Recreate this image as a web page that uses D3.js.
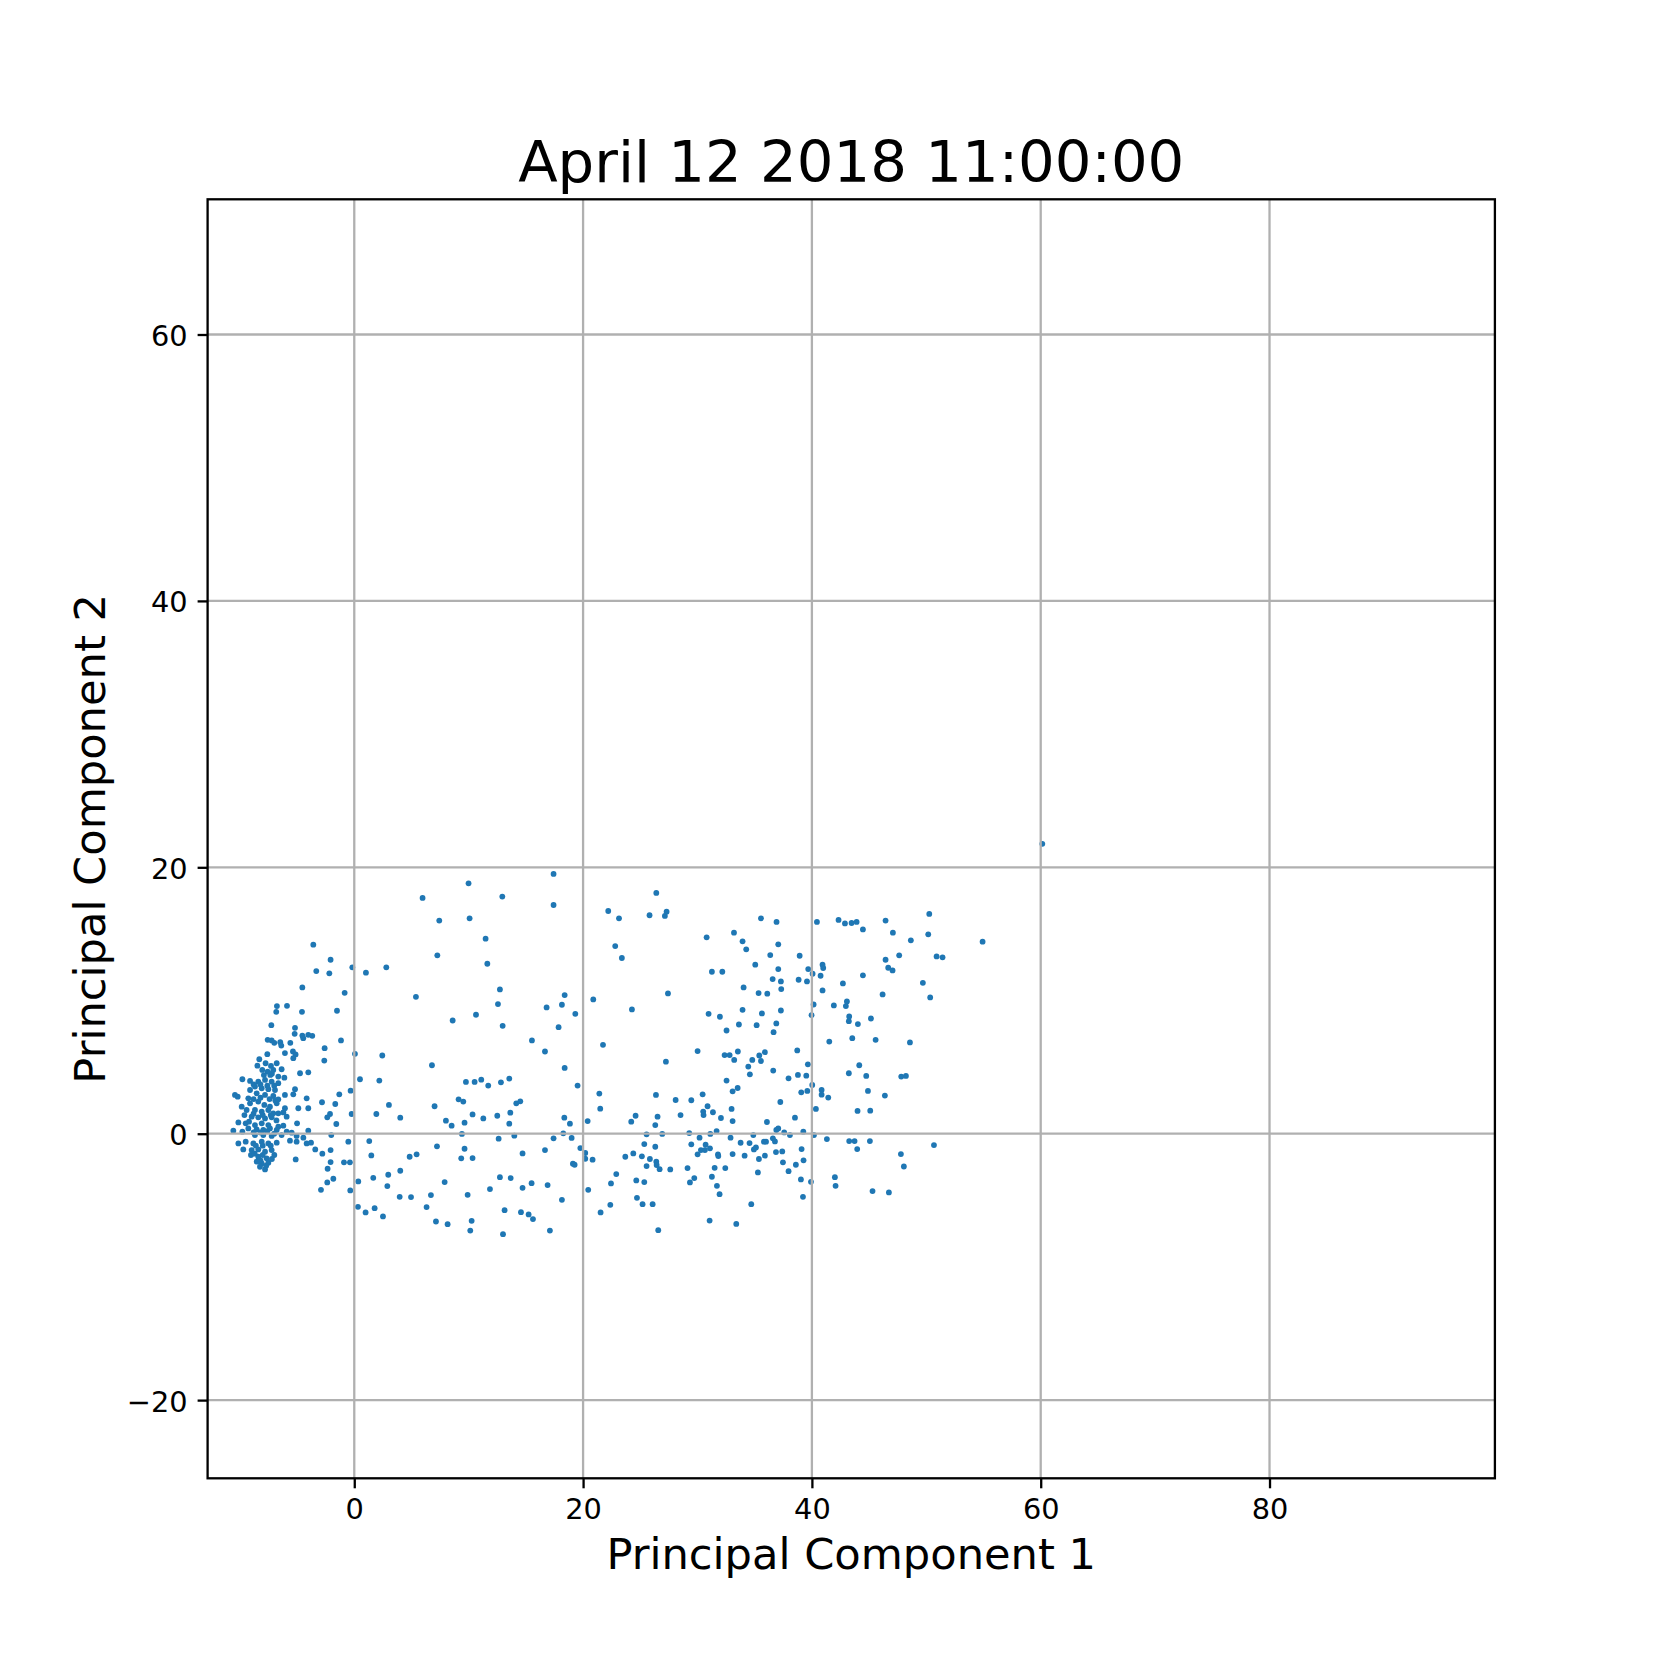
<!DOCTYPE html>
<html><head><meta charset="utf-8">
<script src="https://cdn.jsdelivr.net/npm/d3@7"></script>
<style>body{margin:0;background:#fff}svg{display:block}</style>
</head><body>
<svg id="chart" width="1661" height="1661"></svg>
<script>
const titleText = "April 12 2018 11:00:00";
const xLabelText = "Principal Component 1";
const yLabelText = "Principal Component 2";
const xTicks = [0, 20, 40, 60, 80];
const yTicks = [-20, 0, 20, 40, 60];
const xDomain = [-12.82, 99.7];
const yDomain = [-25.87, 70.15];

// [PC1, PC2] scores
const scoresUpperLeft = [[-3.58,14.19],[-2.07,13.06],[-3.32,12.21],[-2.18,12.04],[-0.17,12.49],[1.02,12.09],[2.80,12.49],[-4.54,10.98],[-0.84,10.58],[5.39,10.28],[-6.76,9.58],[-5.88,9.60],[-6.82,9.15],[-4.57,9.15],[-1.51,9.23],[-7.25,8.15],[-5.18,7.95],[-5.21,7.50],[-4.54,7.37],[-4.46,7.17],[-4.02,7.42],[-3.67,7.35],[-1.16,7.00],[-7.57,7.05],[-7.22,7.00],[-6.99,6.82],[-6.47,6.87],[-6.38,6.62],[-5.59,6.82],[-2.59,6.42],[-7.60,5.97],[-6.06,6.05],[-5.36,6.17],[-5.13,5.95],[0.06,6.00],[2.45,5.87],[-8.30,5.59],[-5.33,5.67],[-2.62,5.49]];
const scoresCluster = [[-8.47,5.11],[-7.75,5.29],[-7.28,5.09],[-6.78,5.29],[-8.04,4.79],[-7.57,4.66],[-7.08,4.79],[-6.35,4.84],[-4.74,4.54],[-4.02,4.61],[-7.34,4.41],[-6.64,4.29],[-6.11,4.21],[-9.78,4.09],[-9.11,3.96],[-8.39,3.91],[-7.80,4.04],[-7.22,3.91],[-6.64,3.79],[-8.68,3.54],[-8.09,3.41],[-7.51,3.34],[-6.93,3.28],[-5.18,3.34],[-9.11,3.28],[-10.43,2.91],[-10.19,2.78],[-8.53,3.03],[-7.80,2.91],[-7.08,2.83],[-6.64,2.58],[-6.06,2.91],[-5.33,2.96],[-9.26,2.66],[-4.16,2.66],[-9.84,2.03],[-9.11,2.28],[-8.39,2.41],[-7.86,2.16],[-7.37,2.03],[-6.78,2.28],[-6.06,1.91],[-4.89,1.91],[-4.02,1.91],[-9.41,1.78],[-8.68,1.78],[-8.09,1.66],[-7.51,1.78],[-7.08,1.53],[-6.64,1.53],[-5.91,1.28],[-8.97,1.28],[-8.39,1.23],[-7.80,1.15],[-7.22,1.23],[-10.13,0.85],[-9.49,0.78],[-8.68,0.65],[-8.09,0.78],[-7.51,0.65],[-6.64,0.53],[-5.00,0.78],[-9.26,0.40],[-8.53,0.33],[-7.95,0.28],[-7.37,0.40],[-6.78,0.28],[-10.57,0.23],[-9.78,0.15],[-5.91,0.15],[-5.47,0.08],[-4.02,0.23],[-7.95,-0.10],[-8.68,-0.10],[-7.22,-0.17],[-6.35,-0.10],[-5.04,-0.17],[-5.62,-0.52],[-10.13,-0.73],[-9.49,-0.60],[-8.82,-0.73],[-8.09,-0.60],[-7.51,-0.73],[-6.78,-0.67],[-4.45,-0.30],[-5.04,-0.60],[-4.16,-0.73],[-3.78,-0.67],[-9.70,-1.18],[-8.97,-1.23],[-8.39,-1.18],[-7.80,-1.35],[-7.22,-1.23],[-9.03,-1.60],[-8.39,-1.73],[-7.66,-1.85],[-6.99,-1.60],[-8.53,-2.10],[-8.09,-2.23],[-7.51,-2.18],[-5.12,-1.93],[-8.24,-2.48],[-7.80,-2.68]];
// overlapping points in the solid core of the cluster (estimated)
const scoresClusterCore = [[-8.8,3.7],[-8.2,3.7],[-7.6,3.6],[-7.0,3.6],[-8.8,2.6],[-8.2,2.7],[-7.4,2.6],[-6.9,2.5],[-8.8,1.5],[-8.0,1.4],[-7.3,1.4],[-6.8,1.0],[-8.8,0.1],[-8.2,0.1],[-7.6,0.2],[-7.0,0.0],[-8.6,-0.9],[-8.0,-0.9],[-7.3,-0.9],[-8.7,-1.5],[-8.0,-1.6],[-7.2,-1.9],[-8.2,-2.0],[-7.7,-2.4],[-7.9,4.4],[-7.2,4.5],[-9.2,0.9],[-9.6,1.4],[-6.2,0.6],[-6.2,1.6]];
const scoresLowerLeft = [[-3.41,-1.18],[0.50,4.09],[2.19,3.99],[-0.32,3.23],[-1.31,2.96],[-2.82,2.36],[-1.66,2.23],[3.03,2.16],[-0.23,1.48],[1.93,1.48],[4.02,1.20],[-2.12,1.48],[-2.36,1.23],[-1.57,0.73],[-2.01,-0.10],[-0.52,-0.60],[1.31,-0.55],[-2.07,-1.23],[-2.79,-1.50],[1.49,-1.63],[4.84,-1.73],[5.45,-1.55],[-2.07,-2.13],[-0.90,-2.15],[-0.38,-2.15],[-2.33,-2.63],[2.97,-3.08],[4.02,-2.78],[1.66,-3.31],[-1.83,-3.38],[-2.36,-3.66],[0.35,-3.58],[2.89,-3.93],[-2.91,-4.21],[-0.35,-4.26],[3.97,-4.74],[4.96,-4.76],[0.32,-5.49],[0.99,-5.91],[1.78,-5.59],[2.51,-6.21]];
const scoresUpperMid = [[17.42,19.50],[9.99,18.80],[5.97,17.70],[12.94,17.80],[17.42,17.17],[7.43,16.00],[10.08,16.17],[11.48,14.64],[7.26,13.39],[11.63,12.76],[12.73,10.83],[18.39,10.41],[12.56,9.73],[16.81,9.48],[18.15,9.68],[19.32,9.00],[8.60,8.50],[10.64,8.93],[12.97,8.10],[17.86,8.00],[15.53,7.00],[16.67,6.17],[22.20,16.72],[23.14,16.17],[22.81,14.09],[20.89,10.08],[21.74,6.67]];
const scoresUpperRight = [[26.40,18.08],[25.81,16.40],[27.15,16.35],[27.30,16.67],[23.39,13.19],[30.80,14.74],[33.19,15.09],[33.94,14.44],[34.26,13.84],[35.55,16.17],[36.91,15.90],[37.06,14.22],[36.36,13.41],[38.93,13.36],[40.44,15.90],[35.05,12.69],[37.06,12.36],[31.26,12.16],[32.17,12.16],[36.57,11.61],[37.29,11.43],[38.84,11.56],[39.57,11.43],[39.68,12.36],[40.06,12.01],[34.03,10.98],[35.34,10.56],[36.10,10.51],[37.32,10.86],[27.42,10.53],[24.27,9.33],[30.97,9.00],[31.96,8.78],[33.94,9.30],[35.63,9.03],[37.29,9.25],[33.62,8.20],[35.17,8.15],[36.89,8.28],[32.54,7.75],[36.65,7.62],[40.15,9.70],[39.97,8.90],[30.01,6.20],[32.37,5.90],[32.81,5.90],[33.53,6.17],[35.40,5.87],[35.89,6.12],[38.72,6.25],
  [42.33,16.05],[42.89,15.79],[43.47,15.82],[43.91,15.90],[44.46,15.34],[46.44,16.00],[47.08,15.09],[48.65,14.52],[50.17,14.97],[50.26,16.50],[54.92,14.42],[46.44,13.06],[47.63,13.39],[50.90,13.31],[51.42,13.24],[46.67,12.46],[47.05,12.26],[40.93,12.69],[40.99,12.44],[40.76,11.86],[44.46,11.89],[42.71,11.28],[40.93,10.76],[49.70,11.33],[46.18,10.46],[50.34,10.23],[41.92,9.63],[43.06,9.93],[42.97,9.58],[43.26,8.80],[43.23,8.45],[44.02,8.23],[45.16,8.65],[41.52,6.92],[43.53,7.17],[45.57,7.05],[48.57,6.85],[60.14,21.76]];
const scoresLowerMid = [[6.79,5.14],[18.39,4.94],[9.76,3.89],[10.52,3.89],[11.10,4.06],[11.71,3.61],[12.82,3.86],[13.55,4.14],[19.52,3.61],[21.42,3.01],[9.12,2.58],[9.53,2.41],[7.02,2.06],[14.16,2.28],[14.51,2.43],[21.50,1.88],[10.34,1.45],[12.50,1.35],[13.64,1.58],[8.01,0.98],[8.51,0.60],[9.64,0.83],[11.28,1.15],[13.55,0.75],[18.36,1.20],[18.85,0.75],[20.40,0.95],[9.41,-0.02],[12.62,-0.37],[13.99,-0.15],[17.42,-0.35],[18.27,0.03],[19.00,-0.32],[7.23,-0.95],[9.64,-1.13],[9.35,-1.85],[10.34,-1.83],[14.71,-1.48],[16.67,-1.23],[19.76,-1.08],[20.19,-1.45],[20.19,-1.88],[20.83,-1.95],[19.11,-2.25],[19.26,-2.33],[12.73,-3.26],[13.67,-3.33],[7.90,-3.63],[11.86,-4.16],[14.71,-4.06],[15.50,-3.71],[16.90,-3.86],[22.90,-3.03],[22.44,-3.73],[20.45,-4.21],[6.70,-4.61],[9.91,-4.59],[6.32,-5.51],[18.15,-4.96],[13.14,-5.74],[14.57,-5.89],[15.24,-6.06],[15.62,-6.41],[22.38,-5.34],[21.53,-5.91],[7.14,-6.59],[8.16,-6.79],[10.26,-6.54],[10.14,-7.27],[13.00,-7.54],[17.10,-7.27]];
const scoresLowerRight = [[27.24,5.41],[33.21,5.54],[34.79,5.54],[35.55,5.46],[34.44,5.04],[34.58,4.46],[36.62,4.74],[39.65,5.21],[38.78,4.41],[39.51,4.36],[37.96,4.16],[32.54,3.99],[33.07,3.18],[33.51,3.43],[40.03,3.66],[39.07,3.11],[39.60,3.21],[26.37,2.91],[28.09,2.53],[29.46,2.51],[30.45,2.96],[37.24,2.38],[30.88,2.06],[30.50,1.66],[30.53,1.40],[31.35,1.61],[32.98,1.86],[28.52,1.40],[24.59,1.35],[24.21,0.90],[26.51,1.28],[26.31,0.65],[32.05,1.18],[33.07,0.95],[36.07,0.88],[38.52,1.20],[40.35,1.86],[25.55,-0.05],[26.92,-0.02],[29.28,0.05],[31.12,-0.02],[31.67,0.20],[32.89,-0.30],[34.88,-0.10],[36.89,0.28],[37.06,0.40],[37.58,0.10],[38.08,-0.10],[39.25,0.15],[40.18,-0.10],[30.18,-0.30],[29.46,-0.80],[30.71,-0.83],[26.31,-0.98],[25.35,-0.78],[23.69,-1.73],[24.39,-1.48],[25.14,-1.70],[25.84,-1.90],[26.40,-2.10],[25.55,-2.43],[26.43,-2.35],[26.69,-2.66],[27.62,-2.68],[30.30,-1.23],[30.01,-1.55],[30.65,-1.23],[31.09,-1.10],[31.79,-1.55],[31.82,-1.68],[33.07,-1.53],[33.77,-0.68],[34.55,-0.70],[35.11,-1.03],[34.93,-1.18],[35.81,-0.60],[35.99,-0.60],[36.59,-0.35],[36.77,-0.58],[36.86,-1.38],[37.41,-1.33],[34.12,-1.65],[35.37,-1.90],[35.89,-1.65],[39.10,-1.15],[37.47,-2.15],[39.27,-2.00],[38.60,-2.33],[37.96,-2.81],[29.13,-2.58],[31.50,-2.56],[32.43,-2.58],[35.28,-2.91],[24.65,-3.51],[25.35,-3.63],[29.72,-3.33],[29.34,-3.66],[31.26,-3.23],[31.70,-3.91],[31.93,-4.54],[24.71,-4.81],[25.20,-5.29],[26.08,-5.29],[34.70,-5.29],[39.04,-3.43],[39.92,-3.61],[39.22,-4.74],[31.06,-6.52],[33.39,-6.77],[26.57,-7.24],
  [44.14,5.14],[43.23,4.54],[44.75,4.34],[47.81,4.29],[48.22,4.34],[40.85,3.28],[40.85,2.93],[41.43,2.71],[44.90,3.21],[46.38,2.86],[43.99,1.71],[45.10,1.73],[41.31,-0.40],[43.26,-0.55],[43.73,-0.55],[45.07,-0.55],[43.96,-1.15],[50.67,-0.85],[47.78,-1.53],[48.04,-2.46],[42.01,-3.26],[42.07,-3.91],[45.30,-4.31],[46.73,-4.41]];

const scores = [].concat(scoresUpperLeft, scoresCluster, scoresClusterCore, scoresLowerLeft, scoresUpperMid, scoresUpperRight, scoresLowerMid, scoresLowerRight);

const plot = {left: 207.6, right: 1494.9, top: 199.3, bottom: 1478.3};
const font = "DejaVu Sans";
const lw = 2.3;

const x = d3.scaleLinear().domain(xDomain).range([plot.left, plot.right]);
const y = d3.scaleLinear().domain(yDomain).range([plot.bottom, plot.top]);

const svg = d3.select("#chart");
svg.append("rect").attr("width", 1661).attr("height", 1661).attr("fill", "#fff");

// points
svg.append("g").selectAll("circle").data(scores).join("circle")
  .attr("cx", d => x(d[0])).attr("cy", d => y(d[1]))
  .attr("r", 2.9).attr("fill", "#1f77b4");

// grid (matplotlib draws grid above the collection)
const grid = svg.append("g").attr("stroke", "#b0b0b0").attr("stroke-width", lw);
grid.selectAll("line.vx").data(xTicks).join("line").attr("class", "vx")
  .attr("x1", d => x(d)).attr("x2", d => x(d)).attr("y1", plot.top).attr("y2", plot.bottom);
grid.selectAll("line.hy").data(yTicks).join("line").attr("class", "hy")
  .attr("y1", d => y(d)).attr("y2", d => y(d)).attr("x1", plot.left).attr("x2", plot.right);

// axes
const fmt = d3.format("d");
const gx = svg.append("g").attr("transform", `translate(0,${plot.bottom})`)
  .call(d3.axisBottom(x).tickValues(xTicks).tickFormat(fmt).tickSize(10).tickPadding(10).tickSizeOuter(0));
const gy = svg.append("g").attr("transform", `translate(${plot.left},0)`)
  .call(d3.axisLeft(y).tickValues(yTicks).tickFormat(fmt).tickSize(10).tickPadding(10).tickSizeOuter(0));
[gx, gy].forEach(g => {
  g.select(".domain").remove();
  g.selectAll(".tick line").attr("stroke", "#000").attr("stroke-width", lw);
  g.selectAll(".tick text").attr("fill", "#000").attr("font-family", font).attr("font-size", 28.8);
});
gy.selectAll(".tick text").attr("dy", "0.38em");

// frame
svg.append("rect").attr("x", plot.left).attr("y", plot.top)
  .attr("width", plot.right - plot.left).attr("height", plot.bottom - plot.top)
  .attr("fill", "none").attr("stroke", "#000").attr("stroke-width", lw);

const cx = (plot.left + plot.right) / 2, cy = (plot.top + plot.bottom) / 2;
svg.append("text").attr("x", cx).attr("y", 181.7).attr("text-anchor", "middle")
  .attr("font-family", font).attr("font-size", 57.7).text(titleText);
svg.append("text").attr("x", cx).attr("y", 1569).attr("text-anchor", "middle")
  .attr("font-family", font).attr("font-size", 43.2).text(xLabelText);
svg.append("text").attr("transform", `translate(105,${cy}) rotate(-90)`).attr("text-anchor", "middle")
  .attr("font-family", font).attr("font-size", 43.2).text(yLabelText);
</script>
</body></html>
